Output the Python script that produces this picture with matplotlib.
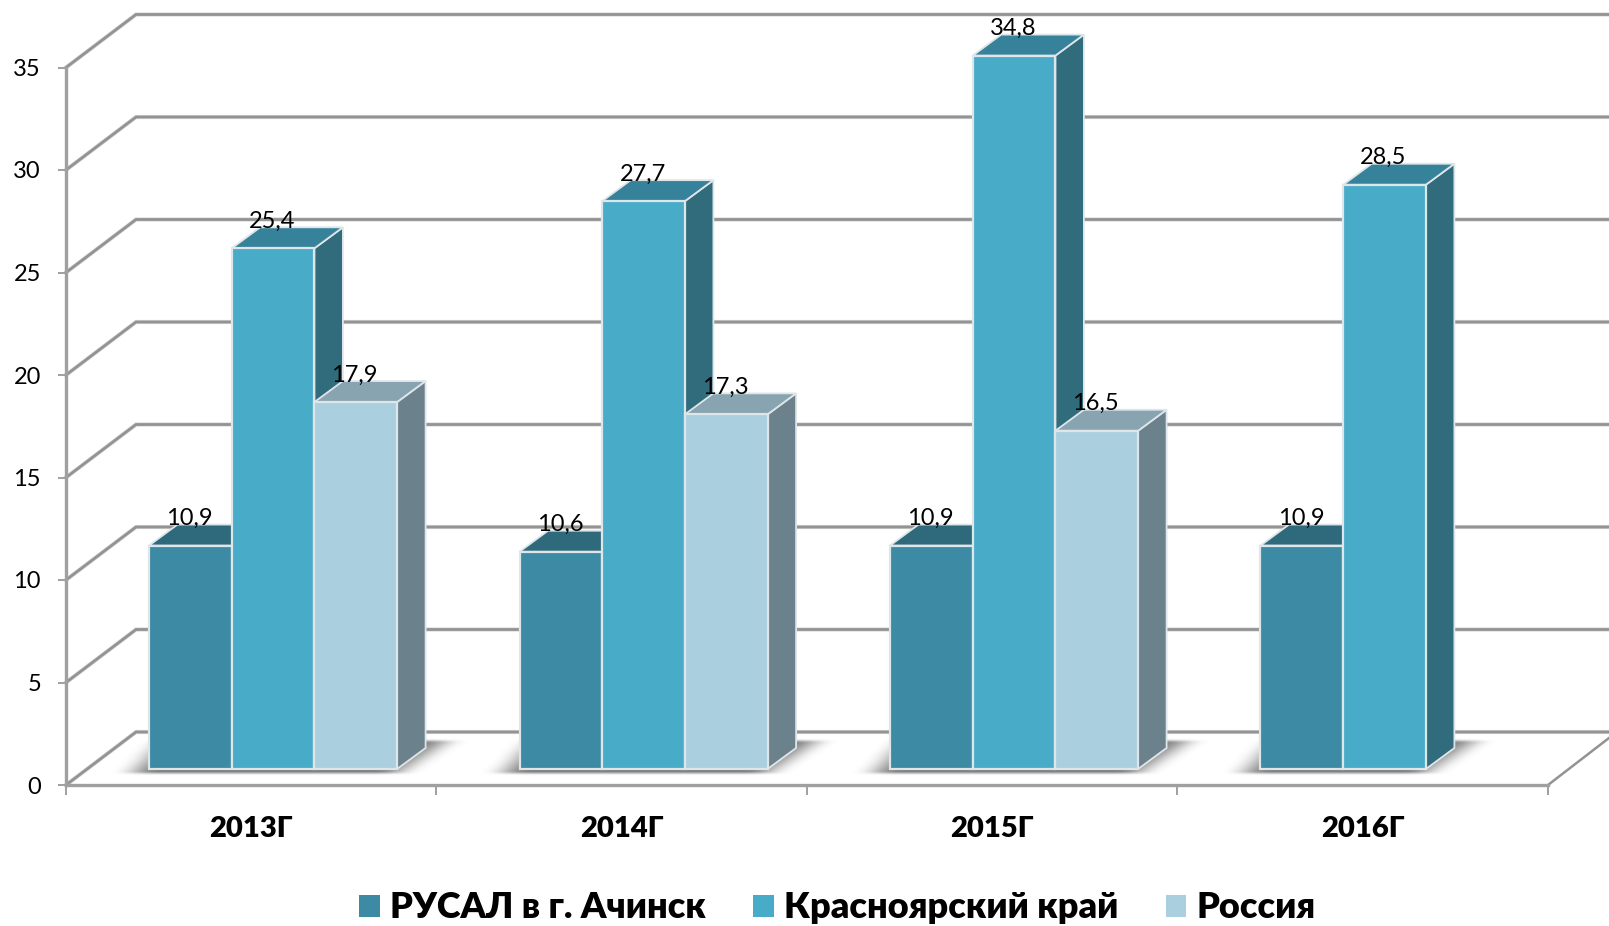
#!/usr/bin/env python3
import numpy as np
import matplotlib
matplotlib.use("Agg")
import matplotlib.pyplot as plt
import matplotlib.patheffects as pe
from matplotlib.patches import Polygon, Patch

plt.rcParams["font.family"] = ["Lato", "Open Sans", "DejaVu Sans"]

# --------------------------------------------------------------------
# Data
# --------------------------------------------------------------------
years = ["2013Г", "2014Г", "2015Г", "2016Г"]
rusal = [10.9, 10.6, 10.9, 10.9]
krai = [25.4, 27.7, 34.8, 28.5]
russia = [17.9, 17.3, 16.5, None]
series_names = ["РУСАЛ в г. Ачинск", "Красноярский край", "Россия"]
y_ticks = [0, 5, 10, 15, 20, 25, 30, 35]

# front, top, side
COLORS = [
    ("#3c8aa4", "#2e6a7b", "#2e6a7b"),
    ("#48acc8", "#37829b", "#316c7c"),
    ("#aacfdf", "#87a4b0", "#6b818c"),
]
EDGE = "#dfe6ea"
GRID = "#939393"

# --------------------------------------------------------------------
# Layout (pixels on the 1609x926 canvas turned into data units)
# --------------------------------------------------------------------
W, H = 1609, 926
X0, Y0 = 66, 785          # pixel of the origin
PX_CAT = 370.5            # pixels per category
PX_VAL = 20.5             # pixels per value unit

WALL_DX, WALL_DY = 70 / PX_CAT, 53 / PX_VAL
BAR_DX, BAR_DY = 28.5 / PX_CAT, 21 / PX_VAL
BAR_START = 83 / PX_CAT
BAR_W = 82.7 / PX_CAT
BAR_BASE = 16 / PX_VAL


def blur(a, size):
    k = np.hanning(size + 2)[1:-1]
    return np.convolve(a, k / k.sum(), mode="same")


def floor_shadow(ax, left, right):
    """Blurred parallelogram under one bar group, left/right in category units."""
    lp, rp = X0 + left * PX_CAT, X0 + right * PX_CAT
    xs = np.arange(lp - 80, rp + 110)
    ys = np.arange(Y0 - 60, Y0 - 2)          # pixel rows, going down
    xx, yy = np.meshgrid(xs, ys)
    base_y, top_y = Y0 - 12, Y0 - 44
    t = np.clip((base_y - yy) / (base_y - top_y), 0, 1)
    inside = (yy <= base_y) & (yy >= top_y) & (xx >= lp - 14 + 30 * t) & (xx <= rp + 48 * t)
    m = inside.astype(float)
    m = np.apply_along_axis(blur, 1, m, 61)
    m = np.apply_along_axis(blur, 0, m, 5)
    rgba = np.zeros(m.shape + (4,))
    rgba[..., :3] = 0.42
    rgba[..., 3] = np.clip(m * 0.9, 0, 1)
    ext = (
        (xs[0] - X0) / PX_CAT, (xs[-1] - X0) / PX_CAT,
        (Y0 - ys[-1]) / PX_VAL, (Y0 - ys[0]) / PX_VAL,
    )
    ax.imshow(rgba, extent=ext, aspect="auto", zorder=2, interpolation="bilinear")


fig = plt.figure(figsize=(W / 100, H / 100), dpi=100)
ax = fig.add_axes([0, 0, 1, 1])
ax.patch.set_visible(False)

for s in ["top", "right"]:
    ax.spines[s].set_visible(False)
ax.spines["left"].set_position(("data", 0))
ax.spines["bottom"].set_position(("data", 0))
ax.spines["left"].set_bounds(0, 35)
ax.spines["bottom"].set_bounds(0, 4)
for s in ["left", "bottom"]:
    ax.spines[s].set_color("#a0a0a0")
    ax.spines[s].set_linewidth(2.4)

ax.set_yticks(y_ticks)
ax.tick_params(axis="y", length=6, width=1.4, color="#a0a0a0", labelsize=17, pad=12)
ax.set_xticks(range(5))
ax.set_xticklabels([])
ax.tick_params(axis="x", length=7, width=1.4, color="#a0a0a0")
ax.set_xticks(np.arange(4) + 0.5, labels=years, minor=True)
ax.tick_params(axis="x", which="minor", length=0, labelsize=21, pad=22)
for t in ax.get_xticklabels(minor=True):
    t.set_fontweight("heavy")

# walls
x_end = (W - X0) / PX_CAT
soft = [pe.Stroke(linewidth=3.0, foreground="#d8d8d8"), pe.Normal()]
for v in y_ticks:
    ax.plot([0, WALL_DX, x_end], [v, v + WALL_DY, v + WALL_DY],
            color=GRID, lw=2.0, zorder=1, solid_joinstyle="miter", path_effects=soft)
ax.plot([4, 4 + (W - 1548) / PX_CAT], [0, (785 - 738) / PX_VAL],
        color=GRID, lw=1.8, zorder=1)

# bars
for i in range(len(years)):
    vals = [rusal[i], krai[i], russia[i]]
    n = sum(v is not None for v in vals)
    left = i + BAR_START
    floor_shadow(ax, left, left + n * BAR_W)

    for j, v in enumerate(vals):
        if v is None:
            continue
        front_c, top_c, side_c = COLORS[j]
        x1, x2 = left + j * BAR_W, left + (j + 1) * BAR_W
        y1, y2 = BAR_BASE, BAR_BASE + v
        z = 3 + 0.1 * j
        ax.add_patch(Polygon([(x2, y1), (x2 + BAR_DX, y1 + BAR_DY), (x2 + BAR_DX, y2 + BAR_DY), (x2, y2)],
                             closed=True, facecolor=side_c, edgecolor=EDGE, lw=1.3, zorder=z))
        ax.add_patch(Polygon([(x1, y2), (x1 + BAR_DX, y2 + BAR_DY), (x2 + BAR_DX, y2 + BAR_DY), (x2, y2)],
                             closed=True, facecolor=top_c, edgecolor=EDGE, lw=1.3, zorder=z))
        ax.add_patch(Polygon([(x1, y1), (x2, y1), (x2, y2), (x1, y2)],
                             closed=True, facecolor=front_c, edgecolor=EDGE, lw=1.6, zorder=z))
        ax.text((x1 + x2) / 2 - 1 / PX_CAT, y2 + 27 / PX_VAL, f"{v:.1f}".replace(".", ","),
                ha="center", va="center", fontsize=17, color="black", zorder=6)

ax.set_xlim(-X0 / PX_CAT, (W - X0) / PX_CAT)
ax.set_ylim((Y0 - H) / PX_VAL, Y0 / PX_VAL)

# legend
handles = [Patch(facecolor=COLORS[j][0], edgecolor="none") for j in range(3)]
fig.legend(
    handles, series_names,
    loc="center", bbox_to_anchor=(0.5205, 0.0195), ncol=3,
    frameon=False, prop={"size": 26, "weight": "heavy"},
    handlelength=0.57, handleheight=0.57, handletextpad=0.29,
    columnspacing=1.3, borderpad=0, borderaxespad=0,
)

fig.savefig("out.png", dpi=100)
plt.close(fig)
